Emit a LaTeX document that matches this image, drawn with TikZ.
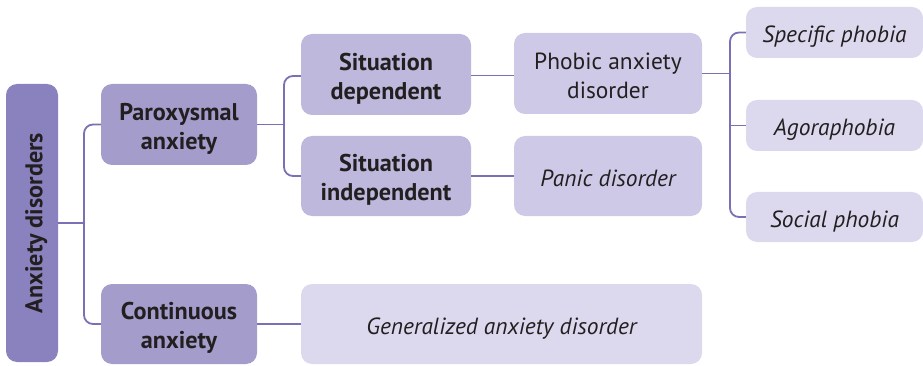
\documentclass[tikz,border=0pt]{standalone}
\usepackage{fontspec}
\setmainfont{PT Sans}
\definecolor{cRoot}{HTML}{8A82BF}
\definecolor{cOne}{HTML}{A49DCC}
\definecolor{cTwo}{HTML}{BDB8DC}
\definecolor{cThree}{HTML}{CDC9E6}
\definecolor{cFour}{HTML}{DCD9EE}
\definecolor{cLine}{HTML}{7B70B5}
\definecolor{cText}{HTML}{231F20}
\newcommand{\dn}[1]{\raisebox{-4.5pt}[\height][\depth]{\begin{tabular}{@{}c@{}}#1\end{tabular}}}
\tikzset{
  box/.style={rounded corners=11pt, text=cText, align=center, inner sep=0pt,
    font=\fontsize{23.4}{29}\selectfont},
  boldbox/.style={box, font=\fontsize{24.2}{29}\selectfont\bfseries},
  conn/.style={draw=cLine, line width=1.8pt, rounded corners=9pt},
}
\begin{document}
\begin{tikzpicture}[x=1pt,y=-1pt]
\useasboundingbox (0,0) rectangle (923,366);
% nodes
\node[boldbox, fill=cRoot, minimum width=52pt, minimum height=278pt] (root) at (32,223)
  {\rotatebox{90}{\dn{Anxiety disorders}}};
\node[boldbox, fill=cOne, minimum width=156pt, minimum height=81pt] (par) at (179,124.5)
  {\dn{Paroxysmal\\anxiety}};
\node[boldbox, fill=cOne, minimum width=156pt, minimum height=80pt] (cont) at (179,324)
  {\dn{Continuous\\anxiety}};
\node[boldbox, fill=cTwo, minimum width=170pt, minimum height=81pt] (sdep) at (386,74.5)
  {\dn{Situation\\dependent}};
\node[boldbox, fill=cTwo, minimum width=170pt, minimum height=80pt] (sind) at (386,176)
  {\dn{Situation\\independent}};
\node[box, fill=cThree, minimum width=188pt, minimum height=81pt] (phob) at (608,73.5)
  {\dn{Phobic anxiety\\disorder}};
\node[box, fill=cThree, minimum width=188pt, minimum height=80pt] (panic) at (608,176)
  {\itshape\dn{Panic disorder}};
\node[box, fill=cFour, minimum width=401pt, minimum height=80pt] (gen) at (501.5,324)
  {\itshape\dn{Generalized anxiety disorder}};
\node[box, fill=cFour, minimum width=177pt, minimum height=51pt] (spec) at (834.5,32.5)
  {\itshape\dn{Specific phobia}};
\node[box, fill=cFour, minimum width=177pt, minimum height=51pt] (agor) at (834.5,125.5)
  {\itshape\dn{Agoraphobia}};
\node[box, fill=cFour, minimum width=177pt, minimum height=50pt] (soc) at (834.5,217)
  {\itshape\dn{Social phobia}};
% bus coordinates
\coordinate (b1) at (84,0);
\coordinate (b2) at (284,0);
\coordinate (b3) at (730,0);
% connectors
\draw[conn] (root.east) -- (root.east -| b1);
\draw[conn] (par.west) -- (par.west -| b1) -- (cont.west -| b1) -- (cont.west);
\draw[conn] (par.east) -- (par.east -| b2);
\draw[conn] ([yshift=-1.5pt]sdep.west) -- ([yshift=-1.5pt]sdep.west -| b2) -- (sind.west -| b2) -- (sind.west);
\draw[conn] (cont.east) -- (gen.west);
\draw[conn] ([yshift=-1pt]sdep.east) -- ([yshift=-1pt]sdep.east -| phob.west);
\draw[conn] (sind.east) -- (panic.west);
\draw[conn] (phob.east) -- (phob.east -| b3);
\draw[conn] (spec.west) -- (spec.west -| b3) -- (soc.west -| b3) -- (soc.west);
\draw[conn] (agor.west) -- (agor.west -| b3);
\end{tikzpicture}
\end{document}
